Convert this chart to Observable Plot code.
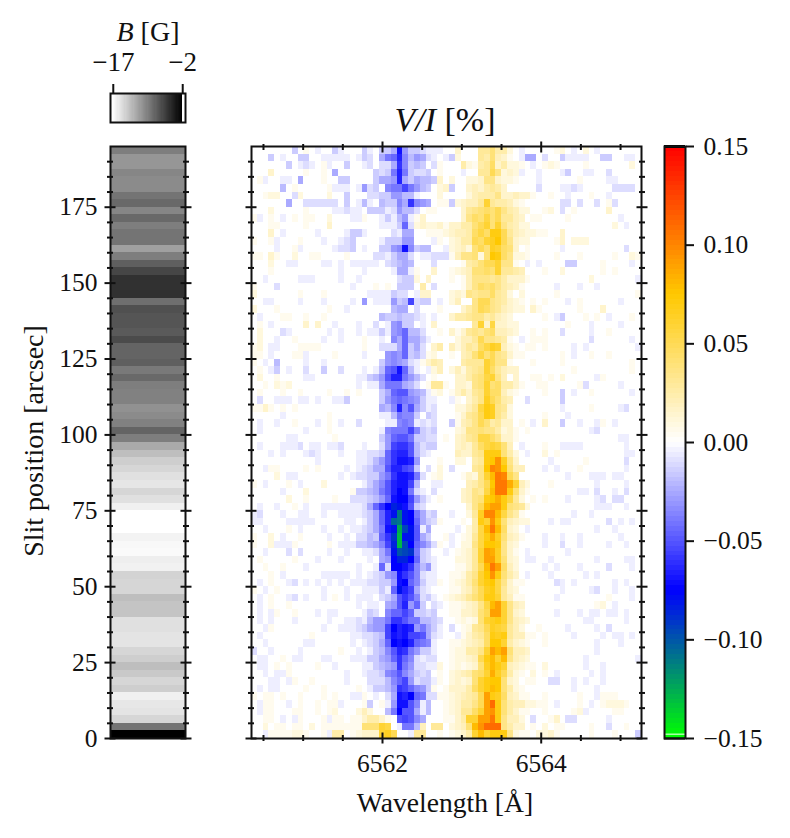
<!DOCTYPE html>
<html>
<head>
<meta charset="utf-8">
<script src="https://cdn.jsdelivr.net/npm/d3@7"></script>
<script src="https://cdn.jsdelivr.net/npm/@observablehq/plot@0.6"></script>
<style>
body { margin: 0; background: white; }
#chart { position: relative; width: 790px; height: 838px; overflow: hidden; }
#chart svg { position: absolute; left: 0; top: 0; }
.lab { position: absolute; font-family: "Liberation Serif", serif; font-size: 28px; color: #111; white-space: pre; transform: translate(-50%, -50%); }
</style>
</head>
<body>
<div id="chart">
  <div class="lab" style="left:148px;top:32px;font-size:28px"><i>B</i> [G]</div>
  <div class="lab" style="left:445px;top:120px;font-size:34px"><i>V/I</i> [%]</div>
  <div class="lab" style="left:445px;top:803px;font-size:27.6px">Wavelength [Å]</div>
  <div class="lab" style="left:34px;top:441px;transform:translate(-50%, -50%) rotate(-90deg)">Slit position [arcsec]</div>
</div>
<script>
const font = '"Liberation Serif", serif';
const W = 790, H = 838;

// tick positions
const yMajor = [0, 25, 50, 75, 100, 125, 150, 175];
const yMinor = [5, 10, 15, 20, 30, 35, 40, 45, 55, 60, 65, 70, 80, 85, 90, 95, 105, 110, 115, 120, 130, 135, 140, 145, 155, 160, 165, 170, 180, 185, 190];
const xMajor = [6562, 6564];
const xMinor = [6560.5, 6561, 6561.5, 6562.5, 6563, 6563.5, 6564.5, 6565];
const cbTicks = [-0.15, -0.10, -0.05, 0, 0.05, 0.10, 0.15];
const bTicks = [-17, -2];

// grid of the spectrum
const wlStart = 6560.349, wlStep = 0.07336, rowStep = 2.5, unit = 0.005;

// B [G] along the slit, bottom row first
const bField = [-2, -8.8, -14.6, -15.4, -15.6, -16.1, -14.1, -14.6, -13.8, -13.2,
  -14.1, -14.6, -15.4, -15.4, -15.2, -15.2, -13.5, -13.5, -13.2, -14.6,
  -14.6, -14.4, -16.2, -16, -16.7, -16.6, -16.3, -17, -17, -17,
  -16.1, -15.2, -14.6, -15.5, -15.2, -14.6, -14.1, -13.2, -12, -9.4,
  -7.9, -9.6, -10.2, -10.5, -9.6, -9.6, -9.4, -8.2, -9.1, -7.6,
  -7.9, -7.9, -6.4, -7.3, -7, -7, -6.7, -8.5, -4.9, -4.9,
  -4.9, -6.1, -7.6, -9.4, -11.4, -8.8, -8.8, -9.4, -8.2, -9.9,
  -8.2, -8.8, -10.2, -10.2, -9.9, -10.8, -10.8, -9.4];

// V/I in units of 0.005 %, top row first, 67 wavelength columns
const viRows = [
[0,0,0,0,0,0,0,-3,0,1, 0,-1,0,0,-3,-1,0,0,0,-3, -1,0,-3,-3,-5,-14,-6,-3,-3,-2, -1,-1,-1,0,0,3,0,0,0,6, 6,8,5,5,2,0,-1,0,0,0, 0,0,1,2,0,-1,0,2,0,-1, 0,0,0,0,0,0,0],
[0,0,0,-3,0,-1,0,0,-3,-3, 0,0,-1,-1,-1,-1,-1,0,-1,-3, -2,0,-5,-8,-9,-13,-7,-4,-6,-5, -2,-1,0,-1,-3,2,0,0,0,6, 5,8,4,3,1,0,-1,-5,-5,0, -2,0,0,-3,-1,-1,-1,-1,0,0, -3,-3,0,0,-1,-1,0],
[0,0,0,0,0,0,-3,0,-1,-2, -1,0,1,-1,0,0,-3,0,0,-1, -2,0,-2,-2,-5,-12,-7,-3,-4,-3, 0,-2,1,0,0,0,5,2,1,5, 6,9,3,5,2,2,1,0,-1,0, 1,2,1,0,0,0,0,1,0,0, 0,0,0,0,0,2,0],
[0,0,0,3,0,0,0,0,0,1, 0,0,1,0,-5,0,0,0,0,0, 0,-3,-2,-3,-8,-13,-8,-3,-2,-2, -3,0,1,0,0,0,-1,0,0,6, 6,10,7,2,3,2,-1,0,0,-1, 0,0,0,-1,-3,0,0,-1,-1,0, 0,-2,0,0,0,0,0],
[0,1,-1,0,0,-1,-1,0,-5,0, 0,0,1,0,0,-3,-3,0,0,0, 0,-3,-5,-5,-6,-13,-5,-3,-5,-4, -4,-3,3,0,2,0,0,2,2,3, 7,7,3,2,2,1,0,0,0,-1, 0,0,0,0,0,0,1,0,0,0, 0,-1,-1,0,0,0,0],
[0,0,0,0,0,-4,0,1,0,0, 0,0,0,1,-1,-1,-1,0,-1,-6, -2,-3,0,-7,-8,-8,-11,-8,-6,-4, -3,0,2,3,-3,0,0,3,4,3, 5,6,5,3,0,0,0,0,0,-2, 0,0,0,-1,-1,-2,-1,0,0,0, 0,0,-2,-2,-2,-2,0],
[0,0,1,2,2,0,0,-2,2,0, 0,0,0,2,0,0,-3,0,0,0, -2,-2,-3,-3,-6,-6,-4,-4,-1,0, 0,0,2,0,0,0,0,2,4,5, 5,5,7,3,3,4,3,3,1,0, 0,1,0,0,-1,0,0,0,1,0, 0,-1,0,0,0,0,0],
[0,0,0,0,0,0,-5,0,0,-2, -2,-2,-2,-2,-2,0,-3,0,-1,-4, -1,0,-4,-3,-3,-7,-5,-12,-7,-6, -5,0,1,1,-3,2,3,4,4,6, 12,6,5,5,4,2,1,0,0,0, 0,0,0,-2,-2,0,-2,0,0,-2, 0,1,-2,0,0,0,0],
[0,0,0,2,0,0,0,0,0,1, 0,0,0,0,-1,-1,-2,-1,-1,0, -3,-3,-3,-1,-2,-6,-4,-4,-2,0, 1,1,0,0,0,0,3,6,7,8, 9,8,10,7,5,4,2,2,0,0, 1,2,0,-2,0,1,0,0,0,0, 0,3,0,0,0,0,0],
[1,-1,0,1,0,-1,0,1,0,1, 1,0,0,2,0,0,0,-1,-1,1, 0,0,-1,-3,-1,-4,-6,-1,1,3, 0,0,0,0,0,0,3,7,9,8, 11,8,10,6,6,4,3,0,1,1, 0,0,0,0,1,0,0,0,0,0, 0,0,0,-1,0,0,0],
[0,0,0,1,1,0,0,0,0,1, 0,0,0,3,0,0,0,0,0,0, 0,0,-1,-1,-1,-3,-9,-2,2,3, 2,2,3,1,3,3,5,5,8,10, 12,8,12,7,5,4,2,2,0,0, 0,0,0,0,0,0,0,0,0,0, 0,0,2,0,-1,0,0],
[0,0,0,3,0,-1,0,0,0,0, 0,-1,0,0,0,0,-1,-3,-3,-1, 0,0,0,0,-2,-1,-5,-5,0,0, 1,1,1,2,3,4,4,5,9,11, 9,14,14,10,6,4,3,2,2,1, 1,0,0,3,0,0,0,0,0,0, 0,0,0,0,0,0,0],
[1,0,0,1,-1,0,0,0,1,0, 0,0,-1,0,0,-1,-2,-3,0,0, 0,0,-1,-3,-3,-3,-6,-6,0,0, 0,-1,1,0,2,3,5,5,10,9, 12,13,15,10,7,3,2,2,0,0, 0,0,1,3,0,2,2,2,0,0, 0,0,0,0,0,0,0],
[0,0,0,0,-1,0,0,1,-1,0, 0,0,0,0,-1,-2,-2,-3,0,-1, 0,0,-3,-3,-6,-7,-14,-7,-3,-4, -4,0,0,-1,2,3,4,2,8,10, 8,13,12,9,8,3,0,1,0,0, 0,0,0,-1,0,0,0,0,0,0, 0,0,0,0,-2,0,0],
[1,1,0,3,1,0,0,2,0,0, 1,1,0,0,0,0,1,0,0,0, 0,-2,-2,-1,-3,-5,-5,-2,0,-1, -1,-2,-2,-2,1,4,7,7,8,2, 8,15,14,9,7,2,2,1,0,0, 0,0,1,0,0,0,1,0,0,0, 0,0,1,0,0,2,1],
[0,0,0,2,0,0,-1,-1,0,0, 0,0,-1,-1,0,-1,0,-1,-1,-1, -1,-1,0,-2,-3,-4,-5,-4,0,0, 0,-2,0,0,0,0,1,5,6,8, 10,10,12,7,7,1,0,-1,0,-1, 0,0,0,0,-3,-3,0,0,0,0, 1,0,0,0,0,-1,0],
[0,0,0,1,0,0,0,0,0,0, 0,0,0,0,0,-1,0,0,0,-1, 0,0,0,0,-1,-5,-5,-1,1,0, 0,3,0,0,1,2,3,4,8,8, 9,8,12,6,6,5,4,0,0,0, 1,0,0,2,0,0,0,0,0,0, 1,0,1,0,0,0,0],
[0,0,-1,0,0,0,0,0,-1,-1, -1,0,0,0,0,-1,0,0,-1,0, 0,0,0,0,0,-2,-3,-3,2,0, 3,0,0,0,1,0,1,4,7,7, 7,6,7,5,3,3,3,1,0,0, 0,0,0,0,0,0,0,0,2,0, 0,0,0,0,0,0,-1],
[1,0,0,0,-2,0,0,0,0,0, 0,0,0,0,0,0,0,-1,0,0, 0,1,0,1,0,-3,-3,-3,0,5, 0,-2,0,0,0,0,1,4,7,9, 8,9,7,5,4,3,1,0,0,0, 0,0,-1,0,0,0,-1,0,0,-1, 0,0,0,0,0,0,0],
[2,0,0,0,0,0,0,0,1,0, 0,0,1,0,0,0,0,0,0,0, -1,-1,-1,-1,-3,-2,-2,0,-1,3, 3,0,0,0,2,3,2,7,6,7, 7,9,6,5,2,0,2,0,0,0, 0,0,1,0,0,0,0,0,0,0, 0,0,0,0,0,0,1],
[0,0,-1,-1,0,0,0,0,-1,0, 0,0,-1,0,0,0,0,-1,0,-6, 0,-1,-1,-1,-6,-3,-4,-11,-2,-3, -3,0,-1,0,2,4,0,0,7,10, 10,7,6,5,3,2,1,0,1,0, 1,0,0,0,-1,0,1,0,0,0, 0,0,0,-1,0,0,0],
[2,0,0,0,1,0,0,0,0,0, 0,0,0,1,0,0,-1,0,0,0, 0,0,0,0,-4,-5,-5,0,-2,0, 0,0,1,0,0,0,3,5,7,10, 9,7,6,4,3,2,2,0,3,1, 0,0,0,0,0,0,1,0,0,0, 3,0,0,0,0,0,0],
[0,-1,0,0,0,1,1,0,0,1, 0,0,1,0,0,0,0,0,0,0, 0,0,-4,-3,-3,-4,-3,-3,-2,-1, 0,-1,0,0,3,5,5,6,7,7, 5,6,4,3,2,0,0,0,0,0, 1,0,-1,-3,0,0,0,1,0,1, 0,-1,0,0,0,1,0],
[0,1,0,-1,0,0,0,0,0,3, 0,3,0,0,-1,0,0,0,-1,0, 0,-2,0,-1,-6,-7,-3,-3,0,-1, 0,3,0,0,0,0,0,0,6,12, 3,11,3,3,2,2,0,0,0,0, 0,0,0,0,1,0,0,0,-1,0, 0,0,0,-1,0,0,0],
[0,2,0,0,0,-2,-1,0,0,0, 0,0,0,-1,0,-1,0,0,-1,0, -1,-1,-3,-1,-6,-7,-9,-4,-4,-2, 0,0,1,0,3,1,3,6,7,6, 8,9,4,4,3,2,0,0,1,0, 1,0,0,-2,0,0,0,0,-1,0, 0,1,0,0,0,0,0],
[0,2,0,0,-1,0,0,1,0,0, 0,0,-1,0,0,-1,0,0,0,1, 0,0,-1,0,-7,-5,-9,-5,-5,-3, -1,0,0,0,0,2,4,4,6,10, 7,7,6,5,1,0,-1,0,1,1, 1,0,0,0,0,0,0,0,-2,0, 0,0,0,0,0,-1,0],
[1,2,0,-1,-1,0,0,0,1,1, 1,1,0,0,0,0,0,0,0,1, 0,0,-2,-2,-2,-5,-9,-3,-5,-2, 0,3,5,0,4,2,4,6,5,9, 11,13,12,4,2,1,0,1,1,0, 1,0,0,0,0,-1,0,-1,0,0, 0,0,0,0,0,0,-1],
[1,1,0,-1,0,0,0,1,1,-1, 0,0,0,0,1,0,0,0,0,-1, 0,0,0,-6,-7,-6,-9,-3,-4,-2, 1,2,0,0,1,0,4,5,8,11, 8,10,7,6,3,1,1,0,0,0, 0,0,0,1,0,-1,0,0,1,0, 0,1,0,0,0,0,0],
[1,0,-1,0,-4,0,0,0,0,-1, 0,0,-1,0,0,0,0,0,0,0, 0,0,-3,-6,-7,-6,-5,-2,-1,1, 3,5,4,0,0,0,5,6,6,6, 12,10,7,7,1,0,0,0,1,0, 0,0,0,1,0,0,0,0,0,0, 0,0,0,0,0,1,0],
[0,1,0,-1,-3,0,-1,0,0,-2, 0,0,-3,0,0,-2,0,0,0,-1, 0,-1,-4,-9,-10,-14,-9,-4,-1,0, -1,2,4,0,2,4,2,5,6,7, 12,9,6,4,3,3,0,0,0,0, 0,0,0,0,0,1,0,0,0,0, 0,0,0,0,0,1,0],
[0,2,0,0,1,0,0,0,0,-1, -1,0,0,0,0,0,0,0,-1,-1, -3,-4,-6,-10,-13,-13,-8,-6,-4,-2, 0,1,0,0,0,3,3,5,7,8, 11,12,7,4,0,3,0,0,1,1, 0,1,0,2,0,0,0,0,0,-1, 1,0,0,0,0,0,0],
[0,0,1,0,2,1,2,0,0,0, 0,0,0,0,0,0,0,0,-1,0, -1,-1,-5,-8,-8,-8,-5,-4,-2,0, 1,6,6,1,0,3,3,2,7,8, 12,8,9,5,5,3,1,0,0,1, 1,0,0,0,0,0,1,-2,0,0, 0,0,0,-1,0,0,0],
[0,1,0,0,0,1,0,0,1,0, 0,0,0,1,0,0,1,0,1,0, 0,0,-3,-5,-9,-10,-10,-6,-5,-4, -1,1,2,0,1,3,5,3,6,7, 12,9,9,4,2,1,0,0,0,0, 1,0,0,-3,0,-1,0,0,1,0, 0,0,0,0,0,-1,0],
[0,-2,0,0,-1,-1,-1,0,-1,-1, 0,-1,0,0,-1,-1,-3,0,0,0, 0,0,-3,-6,-8,-9,-8,-7,-6,-3, -1,-1,0,0,-1,1,0,3,5,7, 13,10,8,5,4,0,0,-2,0,0, 0,0,0,-3,0,0,0,0,0,0, 0,0,0,0,0,0,0],
[1,1,3,1,0,1,0,1,0,0, 0,0,0,0,0,0,0,0,0,0, 0,0,-5,-4,-7,-13,-7,-10,-5,-3, -1,-2,0,0,0,2,2,4,6,11, 14,13,7,6,2,0,0,0,0,0, 0,0,0,-1,0,0,0,0,1,0, 0,0,0,-1,-2,0,0],
[0,0,0,0,0,-1,0,0,0,0, 0,0,0,1,0,0,0,0,0,0, 0,0,-1,-1,-4,-8,-7,-7,-3,0, -3,-2,0,0,0,1,3,6,7,10, 14,13,7,5,2,0,0,0,0,0, 1,0,0,0,-1,0,0,0,0,0, 0,0,0,0,0,0,0],
[0,-1,0,0,-1,0,0,1,0,0, 0,-1,0,1,0,-1,0,0,-2,0, 0,0,0,-1,-1,-7,-8,-7,-1,-2, -1,-2,0,0,-3,1,4,5,7,10, 8,5,6,3,3,0,1,0,-1,0, 3,0,0,-3,0,0,-1,0,0,-1, 1,0,-1,0,0,0,0],
[0,-1,0,0,0,0,0,0,0,-1, 0,0,0,1,0,0,0,0,0,0, 0,0,-1,-7,-8,-8,-8,-11,-7,-3, -2,-3,0,0,0,2,3,7,7,8, 7,7,5,2,3,1,0,1,0,0, 0,0,0,0,0,0,0,0,-1,-2, 0,0,0,0,0,0,0],
[0,0,0,0,0,0,-1,-1,0,0, 0,0,0,0,1,0,0,0,0,0, 0,0,-3,-6,-9,-10,-10,-8,-3,-3, -2,-2,0,1,0,3,4,6,7,11, 11,9,7,3,3,1,0,0,0,0, 0,0,0,0,0,0,0,0,0,0, 0,0,0,-1,-1,0,0],
[0,-1,0,0,0,-1,-1,-1,-2,0, -1,-1,0,-1,-1,-2,0,0,0,-1, 0,0,-2,-6,-11,-12,-12,-10,-4,-2, -3,-3,0,0,0,3,4,3,6,9, 11,12,11,8,4,0,-1,0,0,0, 1,0,0,-1,-1,-1,-1,0,0,0, 0,0,0,0,-1,0,0],
[0,0,0,-1,0,-1,0,0,0,-1, -2,-1,0,0,0,-1,0,0,-1,-1, -2,-2,-3,-9,-12,-13,-13,-10,-4,-2, -1,0,0,0,0,4,3,3,6,7, 14,14,14,8,5,2,0,-1,0,0, 2,0,1,0,0,0,0,0,0,0, 0,0,0,0,-1,-1,0],
[0,0,0,0,0,0,0,0,0,0, 0,-1,0,0,0,0,0,0,-1,-1, -2,-4,-6,-9,-12,-14,-14,-13,-6,0, 0,0,1,0,0,2,2,0,5,6, 14,15,19,13,7,3,0,0,0,0, 0,-1,0,0,0,0,0,1,0,0, 0,0,0,0,-2,0,0],
[0,0,-1,1,1,0,0,0,0,1, 0,1,0,0,0,0,-1,0,-1,-2, -3,-5,-5,-10,-13,-13,-11,-10,-3,0, -2,0,2,0,-2,0,0,0,6,7, 15,20,19,15,8,4,4,0,0,0, -1,0,-1,0,0,0,1,0,0,0, 0,0,0,0,-1,0,0],
[0,0,0,0,2,0,-1,-1,0,0, 0,0,0,0,0,-1,0,-1,-2,-2, -3,-3,-6,-8,-12,-14,-14,-13,-8,-2, 0,1,2,0,0,0,1,3,2,7, 12,16,21,20,10,7,0,0,0,0, 0,0,0,0,-1,0,0,0,-1,-1, -1,0,-1,-1,0,0,0],
[1,0,-1,0,0,0,1,0,-1,0, 0,0,2,0,0,0,0,0,0,-1, -3,-5,-7,-10,-13,-14,-14,-11,-4,0, 0,-1,-1,0,0,0,0,4,5,7, 10,15,21,21,17,12,4,2,0,0, 0,1,0,0,0,0,0,0,0,-1, 0,0,0,0,-1,0,0],
[0,0,0,0,0,-1,0,0,0,2, 0,0,0,0,0,0,0,1,-3,-3, -4,-5,-8,-10,-13,-15,-14,-8,-2,-1, 0,-2,0,0,0,0,3,4,7,6, 11,16,21,21,14,8,3,1,0,0, 0,0,0,0,0,0,-1,-1,0,-2, 0,0,-1,0,-2,0,0],
[0,0,0,0,0,0,2,0,0,1, 0,0,0,0,1,0,0,-2,-2,-2, -3,-4,-6,-9,-14,-15,-15,-11,-6,-3, -1,0,1,0,0,0,3,4,7,8, 14,15,17,14,11,6,2,0,1,0, 1,0,0,0,-1,0,0,0,0,-1, -2,0,-2,-2,0,0,0],
[0,-1,0,0,-1,0,0,1,0,-1, 0,0,-1,-1,-1,-1,-1,-1,-1,-2, -5,-9,-12,-15,-17,-16,-14,-10,-3,-2, 0,0,0,0,0,0,0,3,7,10, 16,18,18,14,8,7,6,2,0,0, 0,0,0,0,0,0,0,0,0,-1, -1,-1,0,0,-1,0,0],
[-1,-2,0,0,0,-1,0,0,-1,-1, 0,0,-1,0,0,-1,-1,-1,-1,-2, -3,-5,-9,-13,-16,-22,-16,-15,-8,-5, -2,-3,0,0,-1,0,0,2,6,13, 20,20,16,11,7,5,1,0,0,0, 0,0,0,0,0,-1,0,0,-1,0, 0,0,0,0,0,0,0],
[-1,-1,0,0,0,0,-1,-1,-1,-1, -1,0,0,0,0,0,-1,-1,0,-1, -3,-5,-9,-13,-21,-22,-16,-15,-9,-5, -3,-2,1,0,0,0,1,0,5,14, 12,19,14,8,4,3,2,2,0,0, 0,-1,0,-1,-1,0,0,0,0,0, 0,-2,0,-1,0,-1,0],
[0,0,-1,0,0,0,1,0,-1,0, 0,0,-1,0,0,-1,0,-1,-1,-2, -3,-5,-8,-14,-16,-25,-19,-16,-10,-1, -5,0,0,0,0,-1,0,2,5,11, 16,21,16,9,3,2,0,-1,0,0, 0,0,0,0,0,0,0,0,0,-1, 0,0,-1,0,0,0,0],
[1,0,0,2,0,-1,0,0,1,0, 0,0,0,-1,0,0,-1,0,-2,-2, -4,-3,-9,-12,-18,-26,-16,-16,-10,-5, -3,0,0,1,-1,0,1,2,6,11, 14,17,13,8,4,3,1,0,0,0, -1,0,0,-1,0,0,-1,0,0,0, 0,0,0,-1,0,0,0],
[1,0,0,2,-1,-1,-1,1,0,0, 0,0,0,1,0,-1,-1,-1,-3,-3, -4,-5,-7,-11,-17,-26,-19,-15,-9,-7, -5,-2,1,0,-1,0,2,2,7,11, 15,15,14,7,3,2,0,0,0,0, -1,0,0,-2,0,0,-1,0,0,0, 0,-1,0,0,-1,0,0],
[0,0,-1,0,0,0,-2,0,-2,0, 0,0,0,-1,0,0,-1,0,0,-1, -1,-2,-5,-8,-16,-20,-19,-18,-8,-3, -2,0,0,-1,0,1,2,3,6,12, 18,17,13,7,3,1,0,-1,0,0, 0,0,0,0,-1,0,0,0,0,0, 0,0,0,0,0,0,0],
[0,1,0,0,0,0,0,1,0,0, 0,-1,0,0,0,-1,0,0,0,0, -1,0,-5,-6,-15,-17,-17,-15,-9,-3, -2,-1,0,0,0,2,2,3,6,12, 18,18,13,8,3,2,0,-1,-1,0, 0,-1,0,0,0,0,0,0,0,-1, 0,0,0,0,-1,-1,0],
[0,0,1,0,0,1,0,0,0,-1, 0,0,0,0,0,0,0,0,-1,0, 0,-1,-9,-2,-15,-15,-14,-12,-7,-4, -6,-1,0,0,0,1,1,3,6,10, 16,21,18,9,4,2,0,0,0,0, -1,0,-1,0,0,0,-1,0,0,0, 0,-2,0,0,0,-1,0],
[0,0,0,1,0,-1,0,0,0,0, 0,0,-1,-1,-1,-1,-1,0,-1,0, -1,-2,-3,-6,-7,-14,-12,-10,-7,-2, -1,-1,0,0,1,1,2,5,7,12, 15,19,14,8,5,3,0,-1,0,0, 0,-1,0,0,0,0,0,-1,0,-1, 0,0,0,0,0,0,0],
[0,-1,0,1,0,0,-1,-2,0,-1, 0,-1,0,-1,0,-1,0,-1,-1,-1, -2,-2,-3,-3,-6,-14,-15,-9,-7,-3, -1,-1,1,0,1,2,3,5,8,12, 14,15,11,7,3,1,1,0,0,0, 0,0,-2,-1,0,-1,0,0,0,0, 0,0,-1,0,-1,0,0],
[1,0,-1,0,1,0,0,0,0,0, 0,0,-1,0,0,0,-1,0,0,-1, -1,-1,-3,-1,-9,-16,-13,-11,-5,-2, -1,0,0,0,1,1,3,4,7,10, 13,14,11,6,3,2,0,0,0,0, 0,0,0,-1,0,0,0,0,-1,-2, 0,0,-1,0,0,-1,0],
[0,-1,0,1,0,0,-1,-2,0,-1, 0,0,-1,0,1,0,-1,0,-1,-1, -1,0,-2,-3,-5,-10,-12,-10,-7,-2, -3,-1,0,1,2,3,4,6,8,10, 14,14,12,6,4,1,1,0,0,0, 0,0,-1,0,0,0,0,0,0,0, 0,1,0,0,0,-1,0],
[0,-1,0,1,0,0,1,0,0,0, 0,0,0,0,0,0,0,0,-1,0, -1,-1,0,-5,-6,-10,-13,-6,-9,-3, 0,-2,-1,0,1,1,2,3,4,7, 11,16,18,12,7,4,3,0,0,0, 0,0,0,0,0,0,0,0,0,1, 2,0,-1,0,0,0,0],
[0,-1,0,-1,1,0,0,1,0,0, 0,-1,0,-1,-1,0,0,0,0,-1, -3,-2,0,-7,-9,-9,-11,-9,-3,-3, -2,-3,0,0,1,1,3,3,4,8, 10,18,18,12,7,3,2,0,0,0, 0,0,-1,0,0,0,-1,0,-1,-1, 0,-1,-1,0,-1,0,0],
[0,-1,0,-1,0,0,0,-1,0,0, 0,0,0,-1,0,0,-1,-1,-2,-1, -4,-6,-6,-8,-12,-12,-10,-8,-8,-4, -4,-3,-2,0,0,1,2,1,2,8, 12,13,14,12,7,4,3,2,0,0, 0,0,0,0,0,0,0,-1,-1,0, 0,0,0,0,-1,0,0],
[0,0,-1,1,0,0,0,0,0,0, 0,0,-1,0,0,-1,-1,-1,-2,-3, -5,-6,-6,-11,-15,-13,-14,-13,-6,-8, -5,-3,-1,0,-2,0,1,2,6,7, 10,13,12,11,6,4,2,0,0,1, 0,0,0,0,-1,0,0,0,0,-1, 0,-2,0,0,0,0,0],
[0,-1,0,0,0,0,0,0,0,0, 1,0,0,0,0,0,0,-1,-1,-2, -2,-3,-4,-11,-14,-13,-14,-11,-11,-10, -5,-2,-1,0,0,-1,1,3,5,6, 9,14,13,14,6,4,4,1,1,0, 1,0,0,0,0,-1,0,0,0,0, -1,0,-1,-1,0,-1,0],
[0,0,-1,0,0,0,0,0,0,-1, -1,0,0,0,0,0,0,-1,0,-1, -2,-3,-5,-9,-15,-14,-15,-13,-9,-8, -7,-1,0,0,1,1,2,3,4,5, 9,15,15,12,5,3,2,1,0,0, 1,0,0,0,0,0,0,0,0,-1, 0,0,0,-1,0,0,0],
[-2,0,0,-1,0,0,0,0,-1,0, 0,0,0,0,0,1,0,0,-1,0, -1,-3,-4,-7,-10,-13,-12,-8,-6,-3, -3,-1,0,0,1,2,2,5,5,7, 12,18,16,18,8,4,4,3,0,0, 0,0,0,0,0,0,0,0,0,-1, 0,0,0,0,0,0,0],
[0,-1,-1,0,0,1,0,-1,-1,0, 0,0,-1,-1,0,0,0,-1,-1,-1, -3,-3,-5,-6,-9,-12,-9,-7,-2,-1, -2,-2,0,0,1,2,2,3,4,10, 14,16,12,16,7,4,3,2,0,0, 0,0,0,0,0,0,0,-1,0,0, 0,0,0,0,0,0,-1],
[0,-1,-1,0,1,0,1,0,0,0, 0,1,0,0,-1,0,0,0,0,-1, -1,-3,-4,-5,-6,-12,-8,-6,-2,-2, -1,-1,2,0,1,2,1,2,3,8, 13,16,14,12,4,3,2,1,1,0, 2,0,0,0,0,0,0,-1,0,0, -1,0,0,0,0,0,0],
[0,0,-1,0,-1,-1,1,0,0,0, 0,0,0,0,0,0,-1,0,0,-1, -2,-2,-3,-7,-8,-10,-7,-5,-3,-2, -3,0,1,0,2,3,4,5,8,9, 12,17,13,10,5,2,1,0,2,0, 1,0,-1,0,0,0,0,0,-1,0, -1,0,0,0,0,0,0],
[0,0,0,-1,-1,0,-1,1,0,0, 1,0,0,0,0,0,-1,0,0,0, -2,-2,-2,-4,-7,-9,-11,-6,-2,-3, -3,-1,1,0,2,3,2,3,8,12, 14,15,15,8,3,2,0,1,1,0, 0,-2,-2,0,0,-1,0,-1,0,0, -1,0,0,0,0,0,0],
[0,-1,0,-1,-1,0,0,0,0,1, 0,0,1,0,0,0,0,0,1,0, -1,-3,-3,-4,-6,-12,-11,-9,-7,-6, -3,1,0,1,3,3,3,5,9,12, 14,16,15,8,5,2,1,0,0,0, 0,0,0,0,0,-1,0,0,0,-1, 0,0,0,0,0,0,0],
[1,0,1,1,0,1,0,0,1,0, 0,0,1,0,1,0,0,-1,-1,1, 0,-1,0,-2,-5,-14,-13,-15,-9,-8, -2,-2,1,1,2,3,4,5,6,10, 18,14,13,9,4,3,1,1,0,0, 1,0,0,0,0,0,1,0,0,-1, 1,1,1,0,0,0,0],
[0,-1,1,1,0,0,-1,0,1,0, 0,1,0,1,1,-1,0,0,0,1, -3,0,1,-1,-6,-14,-14,-10,-7,-1, -4,0,0,1,2,3,5,5,7,10, 18,22,14,8,5,4,4,2,2,1, 1,0,-1,0,0,0,1,0,-1,0, 1,2,2,2,1,0,0],
[0,-1,1,1,0,0,0,1,1,0, 0,1,0,1,2,0,0,0,2,4, 2,0,0,-4,-8,-15,-10,-10,-5,-1, -4,0,0,1,2,3,6,6,9,12, 18,19,14,8,5,3,1,1,0,0, 1,0,0,0,0,1,2,-1,0,0, 0,0,1,1,0,0,0],
[0,0,1,1,0,-1,0,-1,1,0, 0,0,1,-1,1,1,0,1,1,3, 5,5,3,1,0,-10,-11,-10,-7,-5, 0,0,0,1,1,3,5,12,12,18, 18,21,14,7,4,4,2,0,-2,0, 0,1,3,0,-2,-2,0,0,0,0, 0,-1,0,0,0,0,0],
[0,0,2,0,1,1,0,1,1,0, 2,0,1,1,1,1,1,1,1,8, 8,8,12,11,0,-1,-8,-8,-4,4, 0,6,6,0,2,3,4,8,16,19, 22,22,22,7,5,3,3,0,1,0, 2,0,1,1,0,0,0,0,1,0, 0,-2,0,0,1,0,0],
[0,0,-1,1,1,1,1,2,2,1, 0,0,1,-1,5,5,0,1,2,3, 3,3,12,13,10,0,0,-1,6,6, 0,0,1,0,1,2,3,5,12,16, 12,14,14,14,7,2,1,1,0,2, 2,3,1,0,0,0,0,0,1,0, 0,0,1,0,0,0,-3]
];

// long table for the spectrum cells
const cells = viRows.flatMap((row, r) => row.map((v, c) => ({
  w1: wlStart + c * wlStep,
  w2: wlStart + (c + 1) * wlStep,
  y1: 195 - (r + 1) * rowStep,
  y2: 195 - r * rowStep,
  v: v * unit
})));

const viColor = {
  type: "linear",
  domain: [-0.15, -0.075, 0, 0.075, 0.15],
  range: ["#00ff00", "#0000ff", "#ffffff", "#ffc800", "#ff0000"],
  clamp: true
};
const bColor = {type: "linear", domain: [-17, -2], range: ["#ffffff", "#000000"], clamp: true};

// ticks that straddle the frame, as on the matplotlib original
function xTicks(values, size) {
  return ["top", "bottom"].map(anchor => Plot.axisX(values, {
    anchor, tickSize: size, strokeWidth: 2, dy: anchor == "top" ? size / 2 : -size / 2,
    tickFormat: () => "", label: null
  }));
}
function yTicks(values, size) {
  return ["left", "right"].map(anchor => Plot.axisY(values, {
    anchor, tickSize: size, strokeWidth: 2, dx: anchor == "left" ? size / 2 : -size / 2,
    tickFormat: () => "", label: null
  }));
}

const base = {
  width: W, height: H,
  style: {background: "transparent", fontFamily: font, fontSize: "25.5px", color: "#111", overflow: "visible"}
};

function place(p) {
  document.getElementById("chart").appendChild(p);
}

// B colour bar on top
place(Plot.plot({
  ...base,
  marginLeft: 110, marginRight: W - 185, marginTop: 93, marginBottom: H - 122,
  x: {domain: [-17.6, -1.4]},
  y: {domain: [0, 1], axis: null},
  color: bColor,
  marks: [
    Plot.rect(d3.range(-17, -2, 0.25), {x1: d => d, x2: d => d + 0.25, y1: 0, y2: 1, fill: d => d + 0.125, shapeRendering: "crispEdges"}),
    Plot.axisX(bTicks, {anchor: "top", tickSize: 10, strokeWidth: 2, tickPadding: 13, label: null, tickFormat: d3.format("d"), fontSize: 27}),
    Plot.frame({stroke: "#111", strokeWidth: 2})
  ]
}));

// B strip along the slit
place(Plot.plot({
  ...base,
  marginLeft: 110, marginRight: W - 185, marginTop: 146, marginBottom: H - 738,
  x: {domain: [0, 1], axis: null},
  y: {domain: [0, 195]},
  color: bColor,
  marks: [
    Plot.rect(bField, {x1: 0, x2: 1, y1: (d, i) => i * rowStep, y2: (d, i) => (i + 1) * rowStep, fill: d => d, shapeRendering: "crispEdges"}),
    ...yTicks(yMinor, 6),
    ...yTicks(yMajor, 11),
    Plot.axisY(yMajor, {anchor: "left", tickSize: 0, tickPadding: 13, tickFormat: d3.format("d"), label: null}),
    Plot.frame({stroke: "#111", strokeWidth: 2})
  ]
}));

// V/I spectrum
place(Plot.plot({
  ...base,
  marginLeft: 251, marginRight: W - 641, marginTop: 146, marginBottom: H - 738,
  x: {domain: [6560.349, 6565.264]},
  y: {domain: [0, 195], axis: null},
  color: viColor,
  marks: [
    Plot.rect(cells, {x1: "w1", x2: "w2", y1: "y1", y2: "y2", fill: "v", shapeRendering: "crispEdges"}),
    ...xTicks(xMinor, 6),
    ...xTicks(xMajor, 11),
    ...yTicks(yMinor, 6),
    ...yTicks(yMajor, 11),
    Plot.axisX(xMajor, {anchor: "bottom", tickSize: 0, tickPadding: 15, tickFormat: d => String(d), label: null}),
    Plot.frame({stroke: "#111", strokeWidth: 2})
  ]
}));

// V/I colour bar
place(Plot.plot({
  ...base,
  marginLeft: 664, marginRight: W - 685, marginTop: 146, marginBottom: H - 738,
  x: {domain: [0, 1], axis: null},
  y: {domain: [-0.15, 0.15]},
  color: viColor,
  marks: [
    Plot.rect(d3.range(-0.15, 0.15, 0.0025), {x1: 0, x2: 1, y1: d => d, y2: d => d + 0.0025, fill: d => d + 0.00125, shapeRendering: "crispEdges"}),
    Plot.ruleY([0.15], {stroke: "#000", strokeWidth: 3}),
    Plot.ruleY([-0.1478], {stroke: "#fff", strokeWidth: 1}),
    Plot.ruleY([-0.15], {stroke: "#000", strokeWidth: 2}),
    Plot.axisY(cbTicks, {anchor: "right", tickSize: 8, strokeWidth: 2, tickPadding: 10, label: null, tickFormat: d3.format(".2f")}),
    Plot.frame({stroke: "#111", strokeWidth: 2})
  ]
}));
</script>
</body>
</html>
